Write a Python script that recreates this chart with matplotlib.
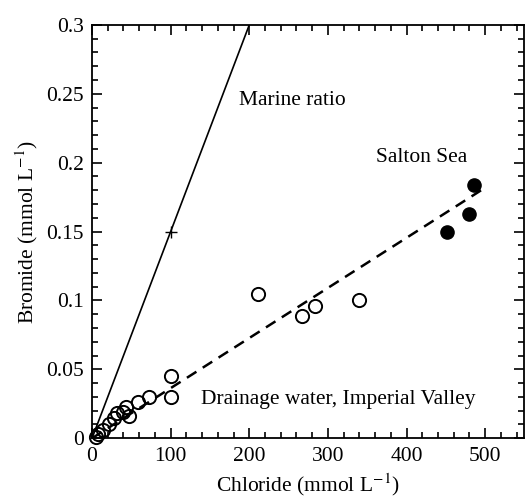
import matplotlib.pyplot as plt
from matplotlib.ticker import MultipleLocator, FormatStrFormatter

plt.rcParams['font.family'] = 'Liberation Serif'
plt.rcParams['mathtext.fontset'] = 'stix'

# drainage water samples (open circles)
drain_cl = [5, 8, 14, 22, 28, 32, 39, 43, 47, 58, 72, 100, 100, 211, 267, 283, 340]
drain_br = [0.001, 0.003, 0.006, 0.010, 0.015, 0.018, 0.019, 0.023, 0.016, 0.026, 0.030,
            0.045, 0.030, 0.105, 0.089, 0.096, 0.100]

# Salton Sea samples (filled circles)
salton_cl = [452, 480, 486]
salton_br = [0.150, 0.163, 0.184]

# reference lines
marine_cl = [0, 200]
marine_br = [0, 0.3]
seawater_pt = (100, 0.15)
trend_cl = [0, 495]
trend_br = [0, 0.18]

fs = 15.5

fig = plt.figure(figsize=(5.26, 4.98), dpi=100)
ax = fig.add_axes([0.175, 0.12, 0.822, 0.83])

ax.plot(marine_cl, marine_br, color='k', lw=1.2)
ax.plot(*seawater_pt, marker='+', color='k', ms=8, mew=1.0)
ax.plot(trend_cl, trend_br, color='k', lw=1.8, linestyle=(0, (4.5, 3)))

ax.plot(drain_cl, drain_br, 'o', mfc='none', mec='k', ms=9.5, mew=1.4, clip_on=False)
ax.plot(salton_cl, salton_br, 'o', color='k', ms=9.5)

ax.text(187, 0.245, 'Marine ratio', fontsize=fs, va='center')
ax.text(361, 0.204, 'Salton Sea', fontsize=fs, va='center')
ax.text(139, 0.028, 'Drainage water, Imperial Valley', fontsize=fs, va='center')

ax.set_xlim(0, 550)
ax.set_ylim(0, 0.3)
ax.xaxis.set_major_locator(MultipleLocator(100))
ax.xaxis.set_minor_locator(MultipleLocator(20))
ax.yaxis.set_major_locator(MultipleLocator(0.05))
ax.yaxis.set_minor_locator(MultipleLocator(0.01))
ax.yaxis.set_major_formatter(FormatStrFormatter('%g'))
ax.tick_params(which='both', direction='in', top=True, right=True, labelsize=fs, width=1.2)
ax.tick_params(which='major', length=7, pad=6)
ax.tick_params(which='minor', length=4)
for s in ax.spines.values():
    s.set_linewidth(1.3)

ax.set_xlabel(r'Chloride (mmol L$^{-1}$)', fontsize=fs, labelpad=4)
ax.set_ylabel(r'Bromide (mmol L$^{-1}$)', fontsize=fs, labelpad=4)

plt.savefig('out.png', dpi=100)
